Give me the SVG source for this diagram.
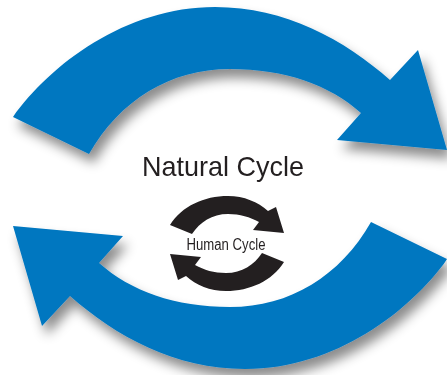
<svg xmlns="http://www.w3.org/2000/svg" width="447" height="375" viewBox="0 0 447 375">
  <defs>
    <filter id="shadow" x="-20%" y="-20%" width="140%" height="150%">
      <feDropShadow dx="5" dy="9" stdDeviation="6" flood-color="#000" flood-opacity="0.45"/>
    </filter>
    <path id="bigArrow" d="M13,117 C 50,65 125,7 215,7 C 285,7 345,40 390,80 L 418,50 L 447,150 L 337,140 L 361,113 C 330,85 285,69 230,69 C 170,69 120,100 89,154 Z"/>
    <path id="smallArrow" d="M170,225 C 182,206 204,196 228,196 C 244,196 258,202 268,211 L 276,207 L 284,233 L 253,230 L 259,222 C 250,217 240,214 228,214 C 212,214 200,222 192,234 Z"/>
  </defs>
  <style>
    .blue { fill: #0077c0; }
    .black { fill: #231f20; }
    .label { font-family: "Liberation Sans", Arial, sans-serif; fill: #231f20; text-anchor: middle; }
  </style>
  <rect width="447" height="375" fill="#ffffff"/>
  <g id="connectors">
    <g id="natural-cycle-arrows" filter="url(#shadow)">
      <use href="#bigArrow" class="blue"/>
      <use href="#bigArrow" class="blue" transform="rotate(180 230 188)"/>
    </g>
    <g id="human-cycle-arrows">
      <use href="#smallArrow" class="black"/>
      <use href="#smallArrow" class="black" transform="rotate(180 227 243.5)"/>
    </g>
  </g>
  <g id="natural-cycle">
    <text class="label" x="223" y="176" font-size="28" textLength="162" lengthAdjust="spacingAndGlyphs">Natural Cycle</text>
  </g>
  <g id="human-cycle">
    <text class="label" x="226" y="250" font-size="16" textLength="79" lengthAdjust="spacingAndGlyphs">Human Cycle</text>
  </g>
</svg>
